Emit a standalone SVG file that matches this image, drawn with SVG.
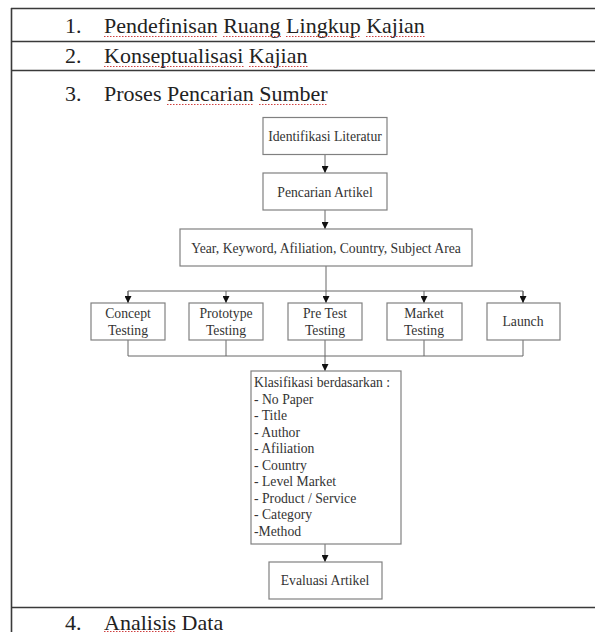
<svg xmlns="http://www.w3.org/2000/svg" width="595" height="632" viewBox="0 0 595 632">
<defs>
<style>
.tl{stroke:#3a3a3a;stroke-width:1.6;fill:none}
.row{font-family:"Liberation Serif",serif;font-size:22px;fill:#222}
.sp{stroke:#d04040;stroke-width:1.2;stroke-dasharray:1.5 1.5;fill:none}
.box{fill:#fff;stroke:#808080;stroke-width:1.2}
.bt{font-family:"Liberation Serif",serif;font-size:13.7px;fill:#333;text-anchor:middle}
.lt{font-family:"Liberation Serif",serif;font-size:13.7px;fill:#333}
.cn{stroke:#666;stroke-width:1;fill:none}
</style>
<marker id="ah" viewBox="0 0 10 10" refX="10" refY="5" markerWidth="7" markerHeight="7" orient="auto" markerUnits="userSpaceOnUse">
<path d="M0,0 L10,5 L0,10 z" fill="#111"/>
</marker>
</defs>
<rect width="595" height="632" fill="#fff"/>
<g id="table">
<line class="tl" x1="11.5" y1="8" x2="11.5" y2="632"/>
<line class="tl" x1="11" y1="8.5" x2="595" y2="8.5"/>
<line class="tl" x1="11" y1="41.5" x2="595" y2="41.5"/>
<line class="tl" x1="11" y1="70.5" x2="595" y2="70.5"/>
<line class="tl" x1="11" y1="607.5" x2="595" y2="607.5"/>
</g>
<g id="rows">
<text class="row" x="65" y="33">1.</text>
<text class="row" x="104" y="33">Pendefinisan Ruang Lingkup Kajian</text>
<text class="row" x="65" y="63">2.</text>
<text class="row" x="104" y="63">Konseptualisasi Kajian</text>
<text class="row" x="65" y="101">3.</text>
<text class="row" x="104" y="101">Proses Pencarian Sumber</text>
<text class="row" x="65" y="630">4.</text>
<text class="row" x="104" y="630">Analisis Data</text>
</g>
<g id="spellcheck">
<path class="sp" d="M104,36.5H218M223,36.5H281M286,36.5H361M366,36.5H425"/>
<path class="sp" d="M104,66.5H244M249,66.5H308"/>
<path class="sp" d="M167,104.5H254M259,104.5H328"/>
<path class="sp" d="M104,631.5H176"/>
</g>
<g id="connectors">
<line class="cn" x1="325" y1="155" x2="325" y2="173" marker-end="url(#ah)"/>
<line class="cn" x1="325" y1="210" x2="325" y2="229" marker-end="url(#ah)"/>
<line class="cn" x1="326" y1="266" x2="326" y2="303" marker-end="url(#ah)"/>
<polyline class="cn" points="128,303 128,291 523,291 523,303"/>
<line class="cn" x1="128" y1="291" x2="128" y2="303" marker-end="url(#ah)"/>
<line class="cn" x1="226" y1="291" x2="226" y2="303" marker-end="url(#ah)"/>
<line class="cn" x1="424" y1="291" x2="424" y2="303" marker-end="url(#ah)"/>
<line class="cn" x1="523" y1="291" x2="523" y2="303" marker-end="url(#ah)"/>
<polyline class="cn" points="128,340 128,356 523,356 523,340"/>
<line class="cn" x1="226" y1="340" x2="226" y2="356"/>
<line class="cn" x1="424" y1="340" x2="424" y2="356"/>
<line class="cn" x1="325" y1="340" x2="325" y2="371" marker-end="url(#ah)"/>
<line class="cn" x1="325" y1="544" x2="325" y2="562" marker-end="url(#ah)"/>
</g>
<g id="n1"><rect class="box" x="263" y="117.5" width="124" height="37"/><text class="bt" x="325" y="140.5">Identifikasi Literatur</text></g>
<g id="n2"><rect class="box" x="263" y="173" width="124" height="37"/><text class="bt" x="325" y="196.5">Pencarian Artikel</text></g>
<g id="n3"><rect class="box" x="180" y="229" width="292" height="37"/><text class="bt" x="326" y="252.5">Year, Keyword, Afiliation, Country, Subject Area</text></g>
<g id="n4"><rect class="box" x="91" y="303" width="74" height="37"/><text class="bt" x="128" y="317.5">Concept</text><text class="bt" x="128" y="334.5">Testing</text></g>
<g id="n5"><rect class="box" x="189" y="303" width="74" height="37"/><text class="bt" x="226" y="317.5">Prototype</text><text class="bt" x="226" y="334.5">Testing</text></g>
<g id="n6"><rect class="box" x="288" y="303" width="74" height="37"/><text class="bt" x="325" y="317.5">Pre Test</text><text class="bt" x="325" y="334.5">Testing</text></g>
<g id="n7"><rect class="box" x="387" y="303" width="75" height="37"/><text class="bt" x="424" y="317.5">Market</text><text class="bt" x="424" y="334.5">Testing</text></g>
<g id="n8"><rect class="box" x="487" y="303" width="73" height="37"/><text class="bt" x="523" y="326">Launch</text></g>
<g id="n9"><rect class="box" x="251" y="371" width="150" height="173"/>
<text class="lt" x="254" y="387">Klasifikasi berdasarkan :</text>
<text class="lt" x="254" y="403.5">- No Paper</text>
<text class="lt" x="254" y="420">- Title</text>
<text class="lt" x="254" y="436.5">- Author</text>
<text class="lt" x="254" y="453">- Afiliation</text>
<text class="lt" x="254" y="469.5">- Country</text>
<text class="lt" x="254" y="486">- Level Market</text>
<text class="lt" x="254" y="502.5">- Product / Service</text>
<text class="lt" x="254" y="519">- Category</text>
<text class="lt" x="254" y="535.5">-Method</text>
</g>
<g id="n10"><rect class="box" x="269" y="562" width="113" height="37"/><text class="bt" x="325" y="585">Evaluasi Artikel</text></g>
</svg>
